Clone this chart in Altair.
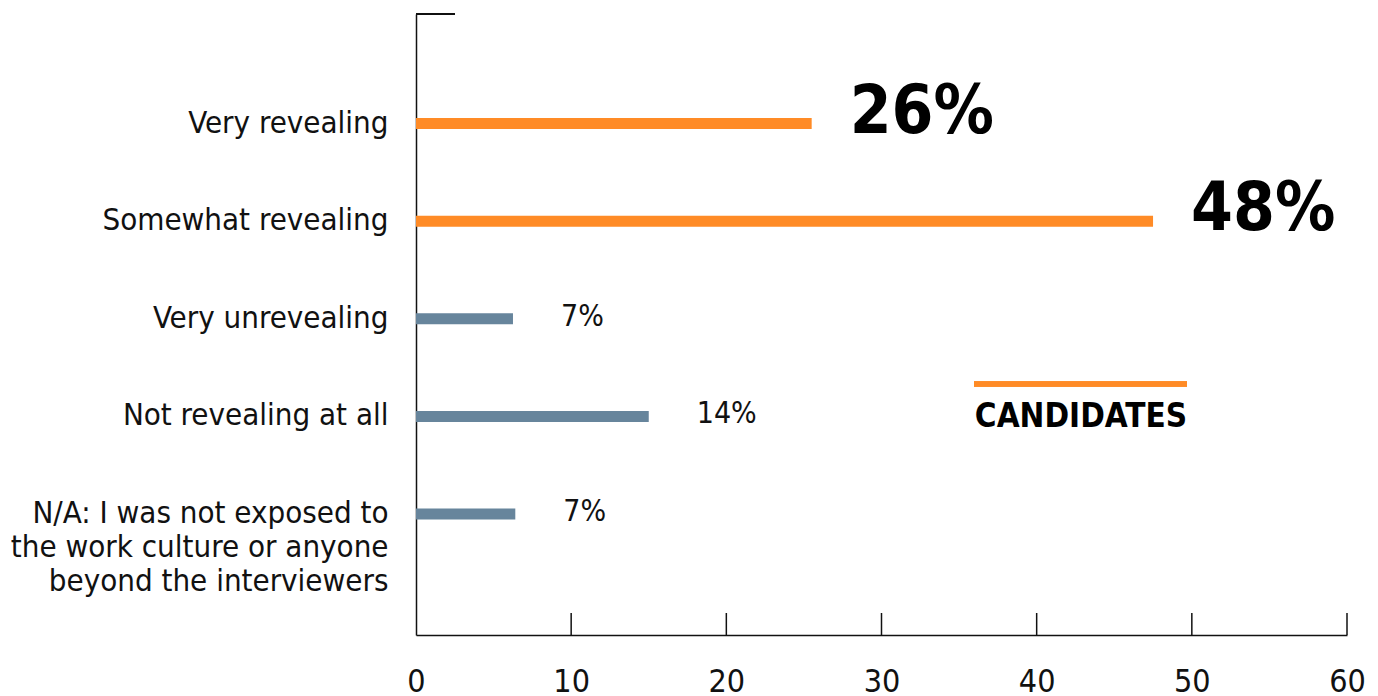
import altair as alt
import pandas as pd

categories = [
    "Very revealing",
    "Somewhat revealing",
    "Very unrevealing",
    "Not revealing at all",
    "N/A: I was not exposed to|the work culture or anyone|beyond the interviewers",
]
values = [25.5, 47.5, 6.25, 15.0, 6.4]
labels = ["26%", "48%", "7%", "14%", "7%"]
groups = ["Candidates", "Candidates", "Other", "Other", "Other"]
x_ticks = [0, 10, 20, 30, 40, 50, 60]
tick_marks = [10, 20, 30, 40, 50, 60]
legend_label = "CANDIDATES"

FONT = "DejaVu Sans Condensed"
ORANGE = "#FF8B26"
GRAY = "#67859C"
W, H = 931, 621

df = pd.DataFrame({"category": categories, "value": values, "label": labels, "group": groups})
ticks_df = pd.DataFrame({"t": tick_marks})

y_scale = alt.Scale(type="band", paddingInner=0, paddingOuter=0.68, align=0.457)

y_enc = alt.Y(
    "category:N",
    sort=categories,
    scale=y_scale,
    axis=alt.Axis(
        title=None,
        ticks=False,
        tickSize=0,
        domain=True,
        domainColor="#111111",
        domainWidth=1.5,
        labelFont=FONT,
        labelFontSize=31,
        labelColor="#111111",
        labelPadding=28,
        labelLimit=450,
        labelLineHeight=34,
        labelExpr="split(datum.label, '|')",
    ),
)

x_scale = alt.Scale(domain=[0, 60], nice=False)

bars = alt.Chart(df).mark_bar(size=11).encode(
    x=alt.X(
        "value:Q",
        scale=x_scale,
        axis=alt.Axis(
            title=None,
            values=x_ticks,
            ticks=False,
            tickSize=0,
            grid=False,
            domainColor="#111111",
            domainWidth=1.5,
            labelFont=FONT,
            labelFontSize=32,
            labelColor="#111111",
            labelPadding=31,
            labelFlush=False,
        ),
    ),
    y=y_enc,
    color=alt.Color("group:N", scale=alt.Scale(domain=["Candidates", "Other"], range=[ORANGE, GRAY]), legend=None),
)

big_text = alt.Chart(df).transform_filter("datum.group == 'Candidates'").mark_text(
    font=FONT, fontSize=67, fontWeight="bold", align="left", baseline="alphabetic", dx=38, dy=9, color="#000000"
).encode(x="value:Q", y=alt.Y("category:N", sort=categories, scale=y_scale), text="label:N")

small_text = alt.Chart(df).transform_filter("datum.group == 'Other'").mark_text(
    font=FONT, fontSize=30, align="left", baseline="alphabetic", dx=48, dy=7, color="#111111"
).encode(x="value:Q", y=alt.Y("category:N", sort=categories, scale=y_scale), text="label:N")

x_tick_rules = alt.Chart(ticks_df).mark_rule(color="#111111", strokeWidth=1.5).encode(
    x=alt.X("t:Q", scale=x_scale),
    y=alt.value(H - 22),
    y2=alt.value(H),
)

top_tick = alt.Chart(df).mark_rule(color="#111111", strokeWidth=1.5).encode(
    x=alt.value(0), x2=alt.value(39), y=alt.value(0)
)

legend_line = alt.Chart(df).mark_rule(color=ORANGE, strokeWidth=5).encode(
    x=alt.value(558), x2=alt.value(771), y=alt.value(370)
)

legend_text = alt.Chart(pd.DataFrame({"t": [legend_label]})).mark_text(
    font=FONT, fontSize=33, fontWeight="bold", align="center", baseline="alphabetic", color="#000000"
).encode(x=alt.value(665), y=alt.value(413), text="t:N")

chart = (
    alt.layer(bars, big_text, small_text, x_tick_rules, top_tick, legend_line, legend_text)
    .properties(
        width=W,
        height=H,
        autosize=alt.AutoSizeParams(type="none"),
        padding={"left": 408, "top": 6, "right": 23, "bottom": 70},
    )
    .configure(background="#FFFFFF")
    .configure_view(stroke="transparent", strokeWidth=0)
)

chart.save("out.html", embed_options={"renderer": "svg", "actions": False})
